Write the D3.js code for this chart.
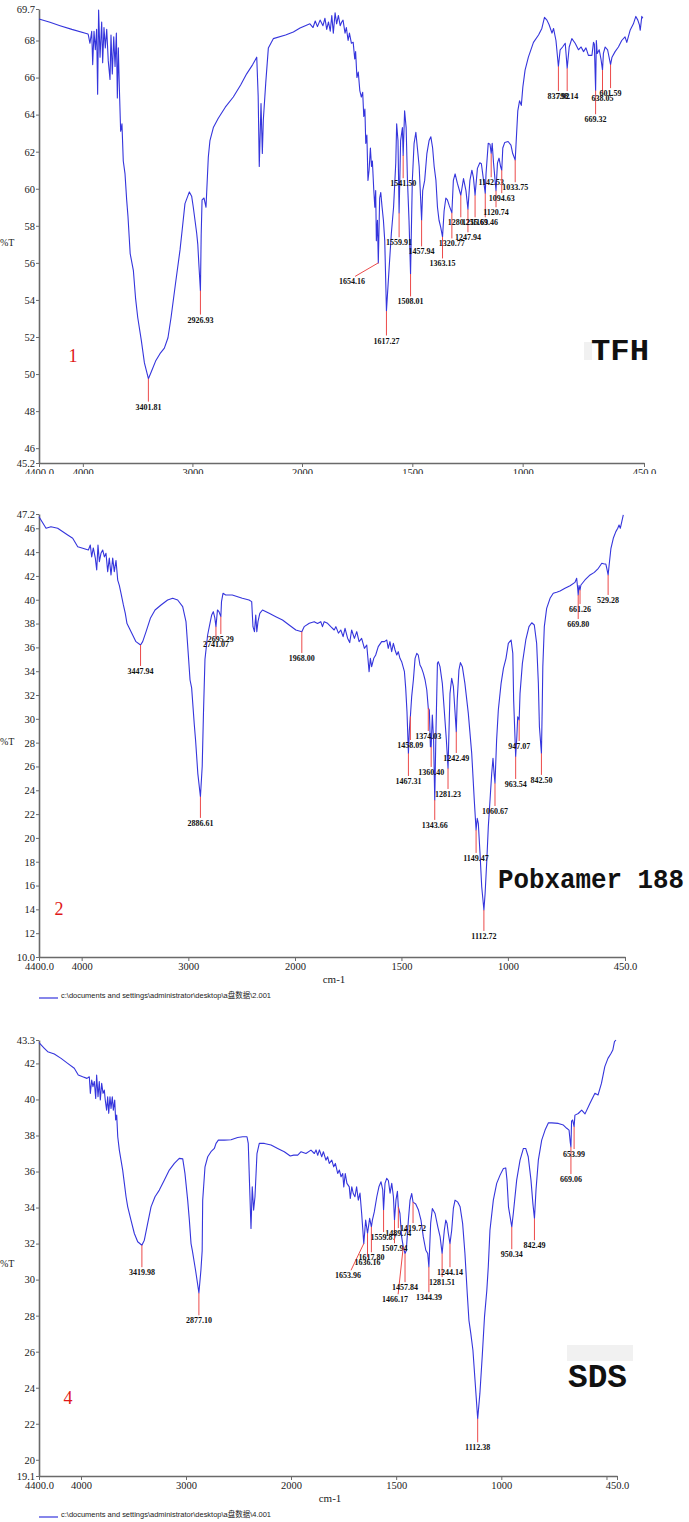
<!DOCTYPE html>
<html><head><meta charset="utf-8">
<script src="https://cdn.jsdelivr.net/npm/d3@7"></script>
<style>body{margin:0;background:#fff}svg{display:block}</style>
</head><body>
<script>
// ---------- DATA ----------
const xTicks = [4400, 4000, 3000, 2000, 1500, 1000, 450];
const xTickLabels = ["4400.0", "4000", "3000", "2000", "1500", "1000", "450.0"];

const tfhYTicks = [69.7, 68, 66, 64, 62, 60, 58, 56, 54, 52, 50, 48, 46, 45.2];
const polYTicks = [47.2, 46, 44, 42, 40, 38, 36, 34, 32, 30, 28, 26, 24, 22, 20, 18, 16, 14, 12, 10.0];
const sdsYTicks = [43.3, 42, 40, 38, 36, 34, 32, 30, 28, 26, 24, 22, 20, 19.1];

const tfhSpectrum = [[4400,69.16],[4300,68.98],[4208,68.8],[4100,68.6],[3953,68.35],[3950,68.3],[3935,67.85],[3919,68.5],[3910,66.7],[3898,68.5],[3886,67.5],[3874,68.6],[3865,65.1],[3856,69.65],[3843,67.1],[3828,69.0],[3819,66.8],[3807,68.7],[3795,67.6],[3782,68.6],[3768,66.9],[3752,65.9],[3743,68.3],[3731,66.2],[3718,68.2],[3706,66.6],[3694,68.4],[3685,64.9],[3676,67.6],[3667,65.5],[3655,63.1],[3643,63.5],[3631,61.5],[3615,60.8],[3600,59.4],[3588,58.5],[3576,57.3],[3568,56.5],[3539,55.6],[3519,54.1],[3499,53.05],[3466,51.8],[3438,50.6],[3401.81,49.75],[3377,50.1],[3336,50.7],[3296,51.1],[3256,51.4],[3223,51.96],[3195,53.05],[3154,54.9],[3113,56.7],[3093,57.8],[3068,59.2],[3028,59.83],[3007,59.6],[2992,59.0],[2961,57.6],[2951,57.0],[2940,55.8],[2926.93,54.5],[2920,57.5],[2912,59.4],[2894,59.5],[2876,59.0],[2855,61.7],[2840,62.6],[2809,63.3],[2764,63.8],[2700,64.4],[2627,64.95],[2560,65.6],[2505,66.2],[2450,66.7],[2413,67.1],[2400,65.0],[2390,61.2],[2374,64.6],[2362,61.9],[2353,63.7],[2331,65.7],[2307,67.6],[2262,68.1],[2150,68.3],[2079,68.46],[2018,68.67],[1985,68.8],[1964,68.9],[1950,68.7],[1940,69.05],[1930,68.75],[1918,69.1],[1905,68.8],[1896,69.2],[1888,68.6],[1880,69.0],[1872,68.5],[1865,69.35],[1858,68.4],[1850,69.5],[1843,68.9],[1835,69.35],[1827,68.8],[1820,69.0],[1814,69.1],[1805,68.4],[1799,68.7],[1791,68.0],[1785,68.4],[1776,67.85],[1768,67.9],[1761,67.0],[1757,67.4],[1751,66.0],[1745,66.3],[1738,65.3],[1731,64.95],[1725,65.2],[1720,63.9],[1715,64.3],[1711,62.45],[1706,62.9],[1701,60.45],[1696,61.0],[1690,62.2],[1685,61.2],[1681,61.5],[1675,60.0],[1670,59.0],[1666,59.9],[1663,57.2],[1658,58.3],[1654.16,56.0],[1648,59.5],[1643,59.8],[1637,59.0],[1631,58.3],[1625,57.2],[1617.27,53.4],[1605,55.75],[1595,57.6],[1585,59.0],[1575,61.4],[1571,63.5],[1565,62.6],[1559.91,58.7],[1553,62.6],[1545,63.3],[1541.5,61.8],[1535,64.2],[1528,63.3],[1522,60.45],[1515,58.3],[1508.01,55.4],[1500,60.45],[1492,62.45],[1484,63.05],[1477,62.2],[1469,61.2],[1457.94,58.3],[1453,59.9],[1444,60.45],[1434,61.9],[1424,62.6],[1416,62.8],[1408,62.2],[1401,61.2],[1393,60.45],[1386,59.0],[1379,58.3],[1371,57.9],[1363.15,57.4],[1356,58.8],[1348,59.5],[1341,59.4],[1333,59.1],[1320.77,58.7],[1314,60.45],[1306,60.8],[1296,60.3],[1280.25,59.65],[1268,60.55],[1257,59.9],[1247.94,58.9],[1239,60.45],[1230,61.0],[1223,60.6],[1215.63,59.65],[1205,61.1],[1194,61.4],[1187,61.35],[1169.46,59.75],[1166,60.8],[1156,62.45],[1148,62.4],[1142.53,61.9],[1138,62.45],[1132,61.4],[1120.74,59.9],[1114,61.4],[1107,61.65],[1100,61.2],[1094.63,61.0],[1090,62.2],[1081,62.5],[1066,62.55],[1053,62.35],[1045,61.9],[1033.75,61.55],[1022,64.2],[1014,64.75],[1006,64.5],[999,65.5],[989,66.4],[974,67.1],[951,67.9],[928,68.3],[913,68.65],[901,69.25],[890,69.1],[880,68.85],[867,68.4],[860,68.65],[849,68.0],[837.92,66.6],[830,67.5],[819,67.65],[807,67.85],[798.14,66.5],[789,67.65],[777,68.1],[762,67.85],[747,67.5],[735,67.65],[724,67.4],[713,67.6],[702,67.2],[686,67.2],[679,67.9],[675,67.8],[669.32,65.3],[666,68.0],[662,67.3],[653,67.5],[645,67.0],[638.05,66.4],[634,67.3],[626,67.65],[615,67.5],[601.59,66.7],[595,67.1],[581,67.4],[566,67.65],[551,68.0],[536,68.2],[528,67.9],[513,68.55],[498,68.9],[487,69.3],[478,69.1],[471,68.85],[467,68.55],[460,69.3],[455,69.2]];

const polSpectrum = [[4400,46.97],[4334,46.0],[4288,46.13],[4225,46.0],[4131,45.44],[4084,45.16],[4037,44.45],[3990,44.32],[3937,44.18],[3919,44.6],[3906,43.6],[3891,44.35],[3872,43.5],[3859,42.5],[3847,44.6],[3834,43.2],[3819,43.9],[3803,44.18],[3787,43.6],[3772,43.9],[3756,42.36],[3741,43.5],[3725,42.08],[3709,43.5],[3694,42.36],[3678,43.3],[3662,41.65],[3647,41.2],[3631,40.54],[3609,39.56],[3591,38.86],[3575,38.0],[3553,37.6],[3522,37.04],[3491,36.48],[3447.94,36.2],[3428,36.48],[3397,37.3],[3356,38.44],[3312,39.14],[3256,39.56],[3194,39.98],[3147,40.12],[3100,39.98],[3053,39.42],[3022,38.16],[3000,35.36],[2984,33.26],[2969,32.6],[2944,29.5],[2932,28.2],[2911,25.4],[2886.61,23.46],[2870,26.0],[2858,30.5],[2844,35.0],[2819,37.04],[2794,38.16],[2781,38.72],[2766,39.0],[2752,38.5],[2741.07,37.74],[2727,39.14],[2713,39.0],[2695.29,38.58],[2689,39.84],[2675,40.54],[2650,40.4],[2588,40.4],[2494,40.12],[2431,39.98],[2406,39.84],[2394,37.74],[2380,37.32],[2368,38.72],[2358,37.32],[2347,38.16],[2330,38.86],[2305,39.14],[2242,38.86],[2180,38.58],[2117,38.3],[2055,37.88],[1996,37.46],[1968,37.32],[1957,37.74],[1933,38.02],[1910,38.16],[1894,38.0],[1879,38.16],[1871,37.74],[1863,38.16],[1847,38.02],[1832,37.74],[1816,37.46],[1808,37.74],[1796,37.2],[1785,37.46],[1774,36.9],[1765,37.6],[1753,36.77],[1743,36.4],[1734,37.46],[1721,36.76],[1710,37.32],[1699,36.48],[1687,36.76],[1674,35.92],[1663,36.2],[1652,33.96],[1646,35.08],[1640,34.38],[1630,35.08],[1621,35.36],[1609,36.06],[1593,36.48],[1580,36.48],[1569,36.62],[1562,35.92],[1554,36.48],[1546,35.64],[1538,36.34],[1530,35.78],[1522,35.36],[1515,35.64],[1507,35.08],[1499,34.8],[1486,33.96],[1480,32.56],[1474,30.6],[1467.31,27.1],[1463,29.0],[1458.09,30.2],[1452,31.86],[1444,33.26],[1436,35.08],[1428,35.5],[1421,35.36],[1413,34.52],[1405,34.24],[1397,33.82],[1389,33.26],[1381,32.42],[1374.03,30.9],[1369,30.74],[1364,27.66],[1360.4,27.66],[1355,30.32],[1349,28.22],[1343.66,23.19],[1338,28.8],[1331,34.66],[1327,34.8],[1319,34.38],[1308,32.98],[1299,30.74],[1289,28.22],[1281.23,25.85],[1277,28.8],[1272,32.14],[1264,33.4],[1256,32.7],[1249,30.74],[1242.49,28.92],[1238,31.58],[1230,34.1],[1223,34.72],[1214,34.38],[1202,32.98],[1186,30.46],[1170,27.1],[1158,23.19],[1149.47,20.67],[1144,21.65],[1139,21.23],[1131,18.71],[1123,15.9],[1112.72,13.95],[1107,15.35],[1099,18.15],[1092,20.95],[1084,23.19],[1076,25.43],[1070,26.69],[1065,25.43],[1060.67,24.59],[1053,28.22],[1045,30.74],[1032,32.98],[1021,34.24],[1009,35.08],[998,36.34],[985,36.62],[977,35.5],[973,31.58],[963.54,26.83],[958,28.5],[954,30.18],[947.07,29.9],[943,32.14],[932,34.66],[916,36.62],[901,37.74],[888,38.07],[876,37.88],[865,36.34],[857,32.98],[852,29.34],[842.5,27.1],[839,30.74],[836,34.38],[829,37.74],[818,39.28],[802,40.12],[787,40.54],[771,40.63],[755,40.73],[732,40.96],[708,41.18],[685,41.46],[677,41.8],[672,40.9],[669.8,40.4],[666,41.2],[661.26,40.82],[657,41.24],[638,41.66],[614,42.08],[594,42.3],[575,42.64],[559,43.06],[547,43.0],[540,43.0],[535,42.6],[529.28,42.08],[524,43.0],[516,44.32],[505,45.16],[493,45.72],[484,46.0],[478,46.28],[472,46.0],[465,46.56],[458,47.12]];

const sdsSpectrum = [[4400,43.15],[4349,42.84],[4317,42.65],[4254,42.52],[4190,42.28],[4127,42.0],[4064,41.73],[4026,41.36],[3984,41.26],[3943,41.17],[3921,41.26],[3911,40.34],[3898,41.08],[3886,40.71],[3873,41.0],[3860,40.06],[3851,41.36],[3838,40.15],[3826,41.0],[3816,39.97],[3803,40.89],[3790,40.34],[3778,40.52],[3769,39.97],[3756,39.41],[3746,40.15],[3736,39.23],[3724,40.15],[3714,39.5],[3702,40.15],[3692,39.41],[3679,39.97],[3670,38.86],[3660,39.13],[3650,37.93],[3635,37.19],[3619,36.63],[3603,36.08],[3587,35.34],[3571,34.6],[3555,34.04],[3524,33.3],[3492,32.56],[3460,32.1],[3419.98,31.91],[3397,32.19],[3365,33.12],[3333,34.04],[3295,34.6],[3254,34.97],[3207,35.52],[3159,36.08],[3111,36.45],[3064,36.73],[3031,36.7],[3010,35.9],[2984,34.41],[2968,33.3],[2952,32.0],[2939,31.6],[2909,30.52],[2877.1,29.26],[2858,30.52],[2846,31.6],[2841,34.41],[2819,36.26],[2793,36.82],[2762,37.1],[2730,37.28],[2714,37.56],[2692,37.74],[2635,37.74],[2571,37.76],[2508,37.89],[2460,37.93],[2419,37.93],[2407,37.56],[2394,35.15],[2381,32.84],[2369,35.15],[2356,33.86],[2343,34.6],[2324,37.0],[2302,37.56],[2254,37.56],[2190,37.47],[2127,37.28],[2064,37.1],[2007,36.86],[1987,36.91],[1968,36.91],[1952,37.1],[1929,37.0],[1905,37.19],[1889,37.0],[1881,37.2],[1873,36.9],[1865,37.2],[1854,36.82],[1846,37.1],[1834,36.63],[1826,36.82],[1818,36.45],[1806,36.63],[1797,36.26],[1789,36.45],[1778,35.89],[1770,36.08],[1762,35.71],[1754,35.89],[1749,35.15],[1742,35.89],[1734,35.34],[1723,35.15],[1718,34.5],[1711,35.15],[1704,34.78],[1696,34.6],[1688,35.15],[1680,34.41],[1672,34.8],[1664,33.67],[1653.96,32.0],[1645,33.3],[1636.16,32.56],[1626,33.4],[1617.8,32.93],[1613,33.3],[1604,33.76],[1592,34.6],[1582,35.15],[1572,35.43],[1564,35.0],[1559.87,33.86],[1553,35.34],[1545,35.62],[1537,35.5],[1529,34.8],[1521,35.34],[1513,34.6],[1507.94,33.3],[1501,34.41],[1494,34.9],[1489.74,34.04],[1482,33.67],[1474,32.37],[1466.17,31.82],[1457.84,31.45],[1452,31.6],[1442,33.3],[1434,34.41],[1426,34.78],[1419.72,34.3],[1407,34.2],[1394,33.86],[1382,33.3],[1371,32.37],[1359,31.63],[1350,31.45],[1344.39,30.71],[1336,33.12],[1328,33.95],[1315,33.67],[1302,32.93],[1291,32.37],[1281.51,31.45],[1271,32.74],[1264,33.3],[1258,33.12],[1252,32.56],[1244.14,32.0],[1236,32.74],[1228,33.95],[1220,34.41],[1207,34.3],[1196,34.04],[1184,33.12],[1173,31.45],[1162,29.23],[1154,27.74],[1145,27.0],[1135,26.08],[1124,24.23],[1112.38,22.28],[1102,23.67],[1091,25.71],[1080,27.93],[1069,29.4],[1062,30.71],[1054,32.74],[1038,34.41],[1022,35.34],[1006,35.8],[990,36.17],[979,36.2],[973,35.52],[966,34.04],[950.34,32.93],[943,33.67],[927,35.52],[911,36.63],[895,37.28],[884,37.28],[872,36.82],[859,35.52],[850,34.23],[842.49,33.39],[835,35.0],[824,36.63],[808,37.74],[792,38.3],[776,38.71],[760,38.7],[729,38.67],[705,38.58],[689,38.4],[678,38.3],[672,37.6],[669.06,37.37],[666,38.8],[661,38.86],[653.99,38.49],[650,39.13],[634,39.22],[618,39.41],[602,39.2],[579,39.78],[555,40.34],[540,40.25],[524,40.89],[508,41.82],[493,42.28],[478,42.56],[470,42.74],[462,43.21],[455,43.3]];

// peak wavenumbers (labels) and the %T level where each label sits
const tfhPeaks = [3401.81, 2926.93, 1654.16, 1617.27, 1559.91, 1541.50, 1508.01, 1457.94, 1363.15, 1320.77, 1280.25, 1247.94, 1215.63, 1169.46, 1142.53, 1120.74, 1094.63, 1033.75, 837.92, 798.14, 669.32, 638.05, 601.59];
const tfhPeakLabelT = [48.24, 52.94, 55.0, 51.81, 57.11, 60.3, 53.92, 56.62, 55.97, 57.05, 58.19, 57.38, 58.19, 58.19, 60.35, 58.73, 59.49, 60.08, 65.0, 65.0, 63.75, 64.89, 65.16];
const polPeaks = [3447.94, 2886.61, 2741.07, 2695.29, 1968.00, 1467.31, 1458.09, 1374.03, 1360.40, 1343.66, 1281.23, 1242.49, 1149.47, 1112.72, 1060.67, 963.54, 947.07, 842.50, 669.80, 661.26, 529.28];
const polPeakLabelT = [34.02, 21.26, 36.28, 36.7, 35.11, 24.78, 27.8, 28.56, 25.54, 21.09, 23.69, 26.71, 18.32, 11.77, 22.26, 24.53, 27.72, 24.87, 37.96, 39.22, 39.98];
const sdsPeaks = [3419.98, 2877.10, 1653.96, 1636.16, 1617.80, 1559.87, 1507.94, 1489.74, 1466.17, 1457.84, 1419.72, 1344.39, 1281.51, 1244.14, 1112.38, 950.34, 842.49, 669.06, 653.99];
const sdsPeakLabelT = [30.41, 27.74, 30.24, 30.97, 31.24, 32.36, 31.74, 32.58, 28.91, 29.58, 32.86, 29.02, 29.86, 30.41, 20.69, 31.41, 31.91, 35.58, 36.97];
// labels that are pushed sideways with a slanted leader (peak -> label centre wavenumber)
const tfhLeaders = {1654.16: 1773};
const sdsLeaders = {1653.96: 1729, 1466.17: 1505};

const names = ["TFH", "Pobxamer 188", "SDS"];
const numbers = ["1", "2", "4"];
const legendTexts = [null, "c:\\documents and settings\\administrator\\desktop\\a盘数据\\2.001", "c:\\documents and settings\\administrator\\desktop\\a盘数据\\4.001"];

// ---------- DRAW ----------
const W = 689, H = 1522;
const BLUE = "#3535dc", RED = "#ec4a4a", AXIS = "#6a6a6a";
const svg = d3.select("body").append("svg").attr("width", W).attr("height", H)
  .style("font-family", "'Liberation Serif','Times New Roman',serif");

svg.append("defs").append("clipPath").attr("id", "clip1")
  .append("rect").attr("x", 0).attr("y", 0).attr("width", W).attr("height", 474);

function interp(spec, w) {
  for (let i = 0; i < spec.length - 1; i++) {
    const a = spec[i], b = spec[i + 1];
    if (w <= a[0] && w >= b[0]) return a[1] + (b[1] - a[1]) * (a[0] - w) / (a[0] - b[0]);
  }
  return spec[spec.length - 1][1];
}

function panel(c) {
  const g = svg.append("g");
  if (c.clip) g.attr("clip-path", "url(#" + c.clip + ")");
  const x = d3.scaleLinear().domain([4400, 2000, 450]).range([39, c.x2000, c.xEnd]);
  const y = d3.scaleLinear().domain(c.yDomain).range([c.yBottom, c.yTop]);

  // faint scanned backdrop behind the sample name
  if (c.smudge) {
    g.append("rect").attr("x", c.smudge[0]).attr("y", c.smudge[1]).attr("width", c.smudge[2]).attr("height", c.smudge[3])
      .attr("fill", "#e4e4e4").attr("opacity", 0.5);
  }

  // y axis
  const ya = g.append("g").attr("transform", "translate(39,0)")
    .call(d3.axisLeft(y).tickValues(c.yTicks).tickSize(3).tickSizeOuter(0).tickPadding(1)
      .tickFormat(d => (d === c.yDomain[0] || d === c.yDomain[1]) ? d.toFixed(1) : d3.format("d")(d)));
  ya.select(".domain").attr("stroke", AXIS).attr("stroke-width", 1.6);
  ya.selectAll(".tick line").attr("stroke", AXIS);
  ya.selectAll("text").attr("font-size", 10.5).attr("fill", "#222").attr("font-family", "'Liberation Serif',serif");

  // x axis
  const ticks = c.extraTick ? xTicks.concat([c.extraTick]) : xTicks;
  const xa = g.append("g").attr("transform", "translate(0," + c.yBottom + ")")
    .call(d3.axisBottom(x).tickValues(ticks).tickSize(4).tickSizeOuter(0).tickPadding(2)
      .tickFormat(d => { const i = xTicks.indexOf(d); return i < 0 ? "" : xTickLabels[i]; }));
  xa.select(".domain").attr("stroke", AXIS).attr("stroke-width", 1.6);
  xa.selectAll(".tick line").attr("stroke", AXIS);
  xa.selectAll("text").attr("font-size", 10.5).attr("fill", "#222").attr("font-family", "'Liberation Serif',serif");

  // %T
  g.append("text").attr("x", 0).attr("y", c.pctY).attr("font-size", 10).attr("fill", "#222").text("%T");

  // spectrum
  g.append("path").datum(c.spec)
    .attr("d", d3.line().x(d => x(d[0])).y(d => y(d[1])))
    .attr("fill", "none").attr("stroke", BLUE).attr("stroke-width", 1.1).attr("stroke-linejoin", "round");

  // peak labels
  c.peaks.forEach((p, i) => {
    const t = interp(c.spec, p);
    const lw = c.leaders[p] !== undefined ? c.leaders[p] : p;
    const lx = x(lw), ly = y(c.labelT[i]);
    const ex = lw === p ? lx : lx + 3;
    g.append("line").attr("x1", x(p)).attr("y1", y(t)).attr("x2", ex).attr("y2", ly - 5)
      .attr("stroke", RED).attr("stroke-width", 1);
    g.append("text").attr("x", lx).attr("y", ly + 3).attr("text-anchor", "middle")
      .attr("font-size", 8).attr("font-weight", "bold").attr("fill", "#111").text(p.toFixed(2));
  });

  // number tag and sample name
  g.append("text").attr("x", c.numPos[0]).attr("y", c.numPos[1]).attr("text-anchor", "middle")
    .attr("font-size", 18).attr("fill", "#e01818").text(c.num);
  g.append("text").attr("x", c.namePos[0]).attr("y", c.namePos[1])
    .attr("font-family", "'Liberation Mono','Courier New',monospace").attr("font-weight", "bold")
    .attr("font-size", c.nameSize).attr("textLength", c.nameLen).attr("lengthAdjust", "spacingAndGlyphs")
    .attr("fill", "#111").text(c.name);

  if (c.legend) {
    g.append("text").attr("x", (39 + c.xEnd) / 2 + 2).attr("y", c.yBottom + 26).attr("text-anchor", "middle")
      .attr("font-size", 11).attr("fill", "#222").text("cm-1");
    g.append("line").attr("x1", 39).attr("x2", 58).attr("y1", c.yBottom + 41).attr("y2", c.yBottom + 41)
      .attr("stroke", BLUE).attr("stroke-width", 1.2);
    g.append("text").attr("x", 61).attr("y", c.yBottom + 41).attr("font-size", 7.5)
      .attr("font-family", "'Liberation Sans','Noto Sans CJK SC',sans-serif")
      .attr("textLength", 210).attr("lengthAdjust", "spacingAndGlyphs")
      .attr("fill", "#222").text(c.legend);
  }
}

panel({spec: tfhSpectrum, peaks: tfhPeaks, labelT: tfhPeakLabelT, leaders: tfhLeaders,
  x2000: 302, xEnd: 644, yDomain: [45.2, 69.7], yBottom: 463, yTop: 9, yTicks: tfhYTicks,
  pctY: 246, clip: "clip1", num: numbers[0], numPos: [73, 362], name: names[0],
  namePos: [591, 360], nameSize: 30, nameLen: 58, smudge: [584, 342, 8, 18]});

panel({spec: polSpectrum, peaks: polPeaks, labelT: polPeakLabelT, leaders: {},
  x2000: 295, xEnd: 625, yDomain: [10, 47.2], yBottom: 957, yTop: 514, yTicks: polYTicks,
  pctY: 745, num: numbers[1], numPos: [59, 915], name: names[1],
  namePos: [498, 888], nameSize: 27, nameLen: 186, legend: legendTexts[1]});

panel({spec: sdsSpectrum, peaks: sdsPeaks, labelT: sdsPeakLabelT, leaders: sdsLeaders,
  x2000: 291, xEnd: 617, yDomain: [19.1, 43.3], yBottom: 1476, yTop: 1040, yTicks: sdsYTicks,
  pctY: 1267, num: numbers[2], numPos: [68, 1404], name: names[2], extraTick: 500,
  namePos: [568, 1387], nameSize: 34, nameLen: 59, legend: legendTexts[2], smudge: [567, 1345, 66, 16]});
</script>
</body></html>
